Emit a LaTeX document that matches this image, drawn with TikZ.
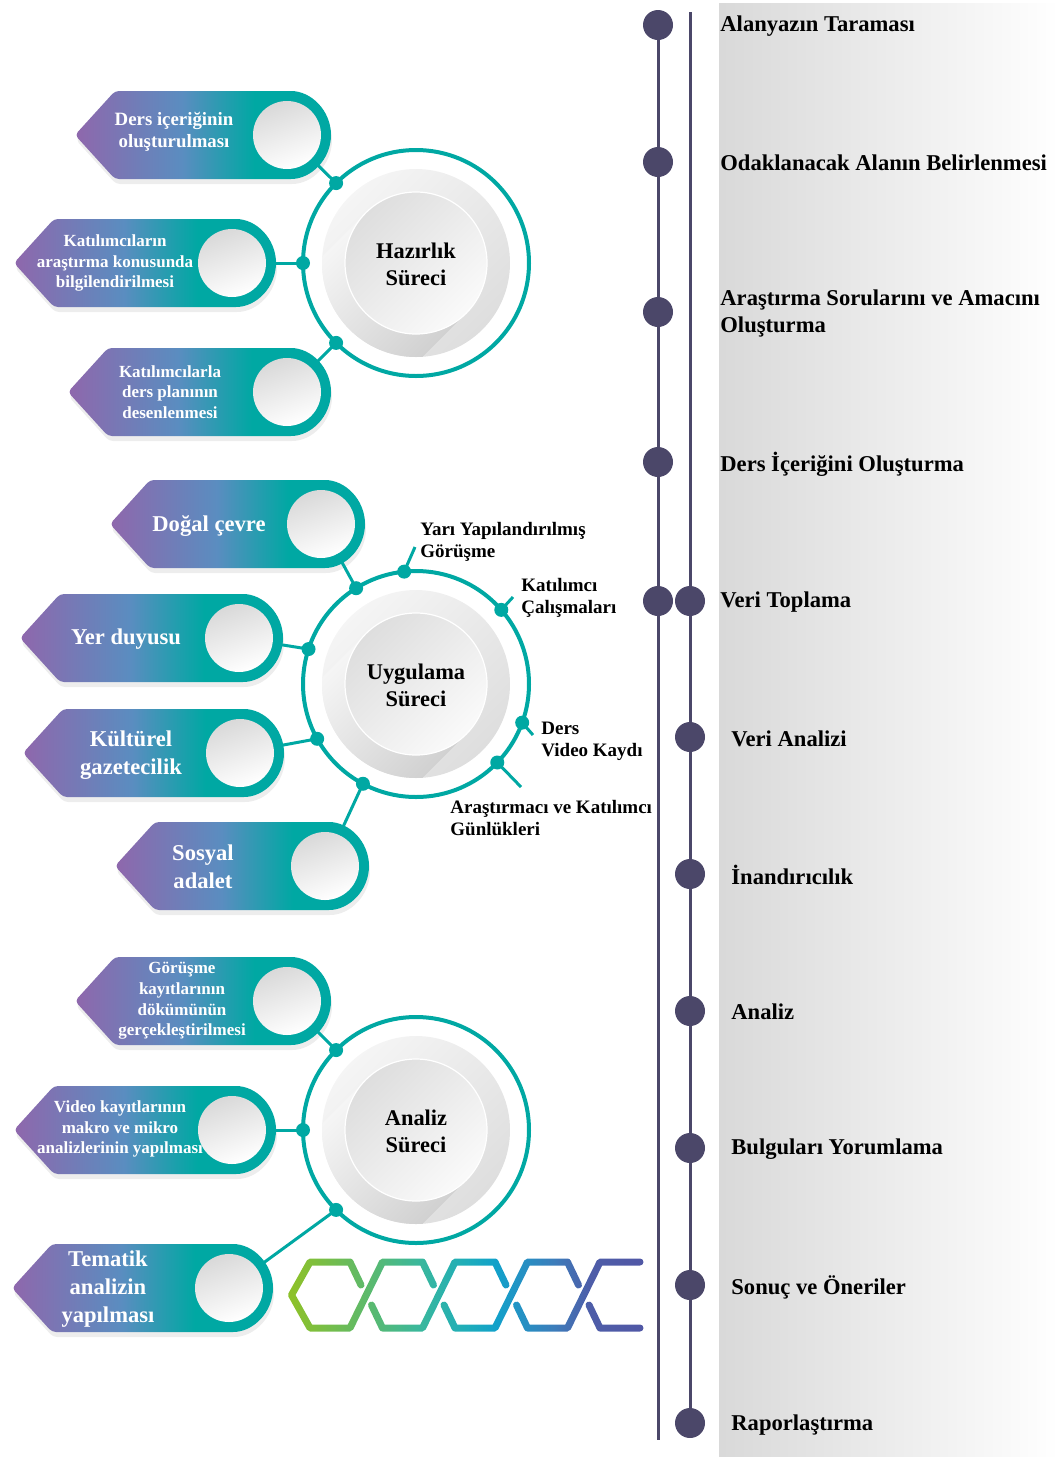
\documentclass[tikz,border=0pt]{standalone}
\usepackage{fontspec}
\setmainfont{Liberation Serif}
\usetikzlibrary{calc}

\definecolor{procteal}{HTML}{00A8A3}
\definecolor{procpurple}{HTML}{8F67AC}
\definecolor{procblue}{HTML}{5A8DC0}
\definecolor{slate}{HTML}{4B4769}
\definecolor{chainA}{HTML}{8CC12B}
\definecolor{chainB}{HTML}{62BA64}
\definecolor{chainC}{HTML}{3CB89A}
\definecolor{chainD}{HTML}{1EADBA}
\definecolor{chainE}{HTML}{12A1CA}
\definecolor{chainF}{HTML}{3C7DBB}
\definecolor{chainG}{HTML}{4E5DA8}
\definecolor{chainH}{HTML}{5157A5}

\pgfdeclarehorizontalshading{pillgrad}{100bp}{color(0bp)=(procpurple); color(25bp)=(procpurple); color(46bp)=(procblue); color(60bp)=(procteal); color(100bp)=(procteal)}
\pgfdeclarehorizontalshading{chaingrad}{100bp}{color(0bp)=(chainA); color(26bp)=(chainA); color(35bp)=(chainB); color(43bp)=(chainC); color(50bp)=(chainD); color(54bp)=(chainE); color(62bp)=(chainF); color(67bp)=(chainG); color(75bp)=(chainH); color(100bp)=(chainH)}

% arrow-like pill: name, tip x, end x, centre y, text position, text style, text
\newcommand{\pill}[7]{%
  \fill[pillshadow] (#2+1,#4-5) -- ++(40,44) -- (#3+1,#4+39) arc[start angle=90,end angle=-90,radius=44] -- (#2+41,#4-49) -- cycle;
  \shade[pillfill] (#2,#4) -- ++(40,44) -- (#3,#4+44) arc[start angle=90,end angle=-90,radius=44] -- (#2+40,#4-44) -- cycle;
  \node[pilldisk] (#1) at (#3,#4) {};
  \node[#6] (#1-text) at (#5) {#7};
}

% stage disk with long shadow and teal ring
\newcommand{\stage}[3]{%
  \coordinate (#1) at (#2,#3);
  \begin{scope}
    \clip (#1) circle (94);
    \shade[left color=black!4,right color=black!13,shading angle=45] (#1) circle (94);
    \shade[left color=white,right color=black!22,shading angle=45] ($(#1)+(135:71)$) -- ++(225:170) -- ++(-45:142) -- ($(#1)+(-45:71)$) -- cycle;
  \end{scope}
  \shade[left color=black!13,right color=black!2,shading angle=45] (#1) circle (71);
  \draw[white,line width=0.6pt] (#1) circle (71);
  \draw[ring] (#1) circle (113);
}

\begin{document}
\begin{tikzpicture}[x=0.5pt,y=0.5pt,
    ring/.style={draw=procteal,line width=2pt},
    link/.style={draw=procteal,line width=1.5pt},
    knot/.style={fill=procteal},
    tline/.style={draw=slate,line width=1.5pt},
    tdot/.style={fill=slate},
    chain/.style={draw=black,line width=3.5pt,line cap=round,line join=round},
    pillfill/.style={shading=pillgrad,rounded corners=2pt},
    pillshadow/.style={fill=black,opacity=0.07,rounded corners=2pt},
    pilldisk/.style={circle,inner sep=0pt,minimum size=34pt,left color=black!15,right color=white,shading angle=20},
    pilltxtS/.style={text=white,align=center,inner sep=0pt,yshift=-0.5pt,font=\bfseries\fontsize{8.5}{10.3}\selectfont},
    pilltxtM/.style={text=white,align=center,inner sep=0pt,yshift=-0.5pt,font=\bfseries\fontsize{9.4}{11}\selectfont},
    pilltxtL/.style={text=white,align=center,inner sep=0pt,yshift=-1pt,font=\bfseries\fontsize{11.3}{13.8}\selectfont},
    stagetitle/.style={align=center,inner sep=0pt,yshift=-0.5pt,font=\bfseries\fontsize{11.2}{13.5}\selectfont},
    ticklabel/.style={anchor=west,align=left,inner sep=0pt,yshift=-1pt,font=\bfseries\fontsize{9.5}{11}\selectfont},
    steplabel/.style={anchor=west,align=left,inner sep=0pt,yshift=-1pt,font=\bfseries\fontsize{11.3}{13.5}\selectfont}]
\useasboundingbox (0,0) rectangle (1059,-1457);

% timeline background
\shade[left color=black!15,right color=white] (719,-3) rectangle (1059,-1457);

% timeline
\foreach \y/\n in {25/l1,162/l2,312/l3,462/l4,601/l5} \coordinate (\n) at (658,-\y);
\coordinate (lend) at (658,-1440);
\foreach \y/\n in {601/r1,737/r2,874/r3,1011/r4,1148/r5,1285/r6,1423/r7} \coordinate (\n) at (690,-\y);
\coordinate (rtop) at (690,-12);
\draw[tline] (l1) -- (lend);
\draw[tline] (rtop) -- (r7);
\foreach \n in {l1,l2,l3,l4,l5,r1,r2,r3,r4,r5,r6,r7} \fill[tdot] (\n) circle (15);

\node[steplabel] (alanyazin) at (720,-24) {Alanyazın Taraması};
\node[steplabel] (odak) at (720,-161) {Odaklanacak Alanın Belirlenmesi};
\node[steplabel] (sorular) at (720,-311) {Araştırma Sorularını ve Amacını\\Oluşturma};
\node[steplabel] (icerik) at (720,-462) {Ders İçeriğini Oluşturma};
\node[steplabel] (toplama) at (720,-600) {Veri Toplama};
\node[steplabel] (verianaliz) at (731,-737) {Veri Analizi};
\node[steplabel] (inandirici) at (731,-873) {İnandırıcılık};
\node[steplabel] (analizstep) at (731,-1010) {Analiz};
\node[steplabel] (bulgular) at (731,-1147) {Bulguları Yorumlama};
\node[steplabel] (sonuc) at (731,-1285) {Sonuç ve Öneriler};
\node[steplabel] (rapor) at (731,-1423) {Raporlaştırma};

% chain ornament
\fill[white] (280,-1244) rectangle (654,-1346);
\draw[chain] (361,-1285) -- (350,-1262) -- (310,-1262) -- (291.5,-1295) -- (310,-1328) -- (350,-1328) -- (382.5,-1262) -- (422.5,-1262) -- (433.5,-1285);
\foreach \i in {1,2}
  \draw[chain] ({310+72.5*\i-11},-1305) -- ++(11,-23) -- ++(40,0) -- ++(32.5,66) -- ++(40,0) -- ++(11,-23);
\draw[chain] (516.5,-1305) -- ++(11,-23) -- ++(40,0) -- ++(32.5,66) -- ++(40,0);
\draw[chain] (589,-1305) -- ++(11,-23) -- ++(40,0);
\shade[shading=chaingrad,blend mode=screen] (286,-1252) rectangle (648,-1338);

% pills
\pill{dersicerik}{75}{287}{-135}{174,-131}{pilltxtM}{Ders içeriğinin\\oluşturulması}
\pill{bilgilendirme}{14}{232}{-263}{115,-262}{pilltxtS}{Katılımcıların\\araştırma konusunda\\bilgilendirilmesi}
\pill{desen}{68}{287}{-392}{170,-391}{pilltxtS}{Katılımcılarla\\ders planının\\desenlenmesi}
\pill{dogal}{110}{321}{-524}{209,-524}{pilltxtL}{Doğal çevre}
\pill{yer}{20}{239}{-638}{126,-637}{pilltxtL}{Yer duyusu}
\pill{kulturel}{23}{240}{-753}{131,-753}{pilltxtL}{Kültürel\\gazetecilik}
\pill{sosyal}{115}{325}{-866}{203,-865}{pilltxtL}{Sosyal\\adalet}
\pill{dokum}{75}{287}{-1001}{182,-1000}{pilltxtS}{Görüşme\\kayıtlarının\\dökümünün\\gerçekleştirilmesi}
\pill{video}{14}{232}{-1130}{120,-1128}{pilltxtS}{Video kayıtlarının\\makro ve mikro\\analizlerinin yapılması}
\pill{tematik}{12}{229}{-1288}{108,-1287}{pilltxtL}{Tematik\\analizin\\yapılması}

% stages
\stage{hazirlik}{416}{-263}
\stage{uygulama}{416}{-684}
\stage{analiz}{416}{-1130}
\node[stagetitle] (hazirlik-title) at (hazirlik) {Hazırlık\\Süreci};
\node[stagetitle] (uygulama-title) at (uygulama) {Uygulama\\Süreci};
\node[stagetitle] (analiz-title) at (analiz) {Analiz\\Süreci};

% dots on the rings
\foreach \a/\n in {135/hz-a,180/hz-b,225/hz-c} \coordinate (\n) at ($(hazirlik)+(\a:113)$);
\foreach \a/\n in {135/an-a,180/an-b,225/an-c} \coordinate (\n) at ($(analiz)+(\a:113)$);
\foreach \a/\n in {96/ug-yari,41/ug-kat,-20/ug-ders,-44/ug-gun,122/ug-dogal,162/ug-yer,209/ug-kul,242/ug-sos} \coordinate (\n) at ($(uygulama)+(\a:113)$);

\draw[link] (hz-a) -- (dersicerik);
\draw[link] (hz-b) -- (bilgilendirme);
\draw[link] (hz-c) -- (desen);
\draw[link] (ug-dogal) -- (dogal);
\draw[link] (ug-yer) -- (yer);
\draw[link] (ug-kul) -- (kulturel);
\draw[link] (ug-sos) -- (sosyal);
\draw[link] (an-a) -- (dokum);
\draw[link] (an-b) -- (video);
\draw[link] (an-c) -- (tematik);

% ticks for data sources
\coordinate (yari-end) at (415,-547);
\coordinate (kat-end) at (513,-597);
\coordinate (ders-end) at (533,-735);
\coordinate (gun-end) at (521,-787);
\draw[link] (ug-yari) -- (yari-end);
\draw[link] (ug-kat) -- (kat-end);
\draw[link] (ug-ders) -- (ders-end);
\draw[link] (ug-gun) -- (gun-end);

\foreach \n in {hz-a,hz-b,hz-c,an-a,an-b,an-c,ug-yari,ug-kat,ug-ders,ug-gun,ug-dogal,ug-yer,ug-kul,ug-sos}
  \fill[knot] (\n) circle (7);

\node[ticklabel] (yari) at (420,-540) {Yarı Yapılandırılmış\\Görüşme};
\node[ticklabel] (katilimci) at (521,-596) {Katılımcı\\Çalışmaları};
\node[ticklabel] (dersvideo) at (541,-739) {Ders\\Video Kaydı};
\node[ticklabel] (gunluk) at (450,-816) {Araştırmacı ve Katılımcı\\Günlükleri};
\end{tikzpicture}
\end{document}
